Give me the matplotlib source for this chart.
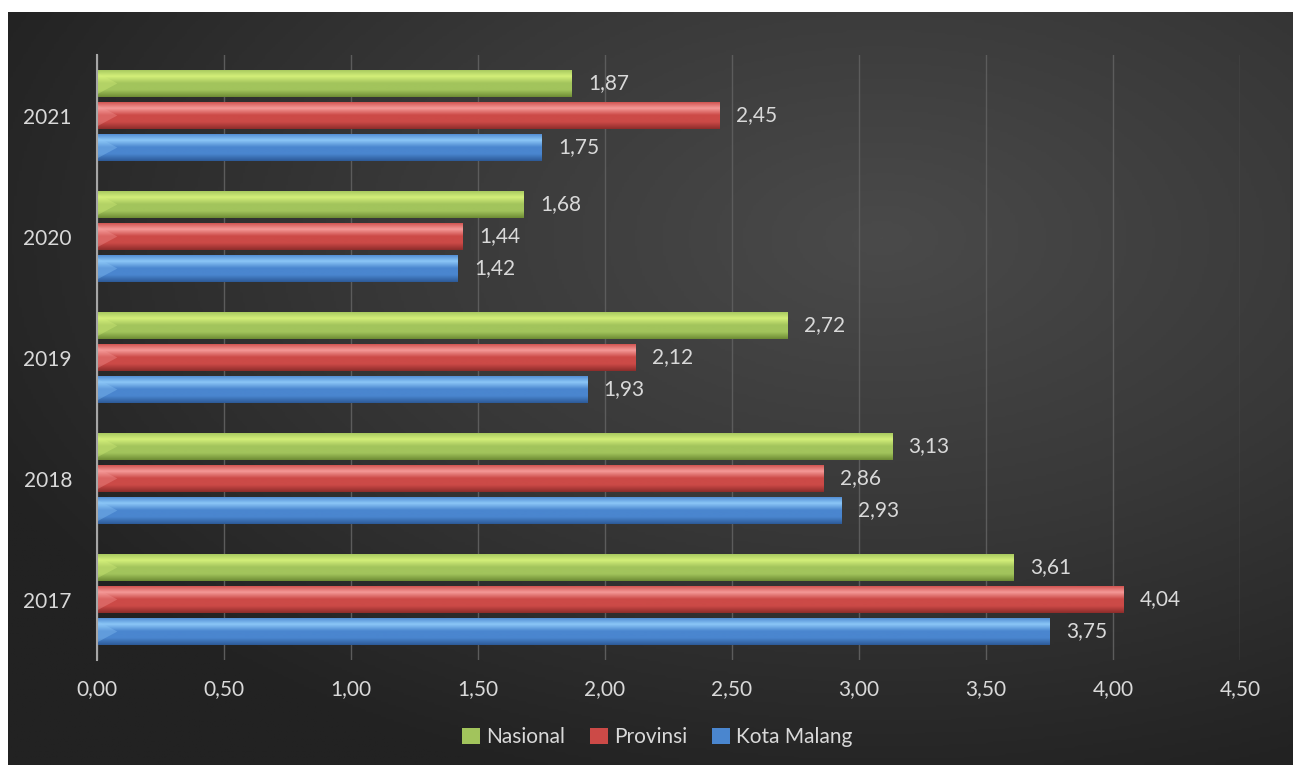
import numpy as np
import matplotlib.pyplot as plt
from matplotlib.colors import LinearSegmentedColormap
from matplotlib.ticker import FuncFormatter

plt.rcParams['font.family'] = ['Lato', 'DejaVu Sans']

years = ['2017', '2018', '2019', '2020', '2021']
nasional = [3.61, 3.13, 2.72, 1.68, 1.87]
provinsi = [4.04, 2.86, 2.12, 1.44, 2.45]
kota_malang = [3.75, 2.93, 1.93, 1.42, 1.75]

series = [
    ('Nasional', nasional, ['#d4ef7a', '#a2c45c', '#6e8c35']),
    ('Provinsi', provinsi, ['#f59a98', '#cc4a47', '#8e2d2b']),
    ('Kota Malang', kota_malang, ['#8cc7f7', '#4a86cf', '#2d5a98']),
]
offsets = [0.265, 0.0, -0.265]
bar_h = 0.225
txt_col = '#d9d9d9'


def comma(v, pos=None):
    return f'{v:.2f}'.replace('.', ',')


fig = plt.figure(figsize=(12.93, 7.65), dpi=100)
fig.patch.set_facecolor('white')

# dark radial background panel
bg = fig.add_axes([8 / 1293, 0, 1 - 8 / 1293, 1 - 12 / 765])
yy, xx = np.mgrid[0:1:300j, 0:1:500j]
r = np.sqrt(((xx - 0.68) / 0.9) ** 2 + ((yy - 0.3) / 0.9) ** 2)
bg_cmap = LinearSegmentedColormap.from_list('bg', ['#4a4a4a', '#383838', '#222222'])
bg.imshow(r, cmap=bg_cmap, vmin=0, vmax=0.85, aspect='auto', extent=[0, 1, 1, 0])
bg.set_axis_off()

ax = fig.add_axes([97 / 1293, 1 - 660 / 765, (1240 - 97) / 1293, (660 - 55) / 765])
ax.set_facecolor('none')

y = np.arange(len(years))
for (name, vals, cols), off in zip(series, offsets):
    bars = ax.barh(y + off, vals, height=bar_h, color=cols[1], label=name,
                   edgecolor='none', zorder=3)
    cmap = LinearSegmentedColormap.from_list(name, [cols[2], cols[1], cols[1], cols[0], cols[1]])
    grad = np.linspace(0, 1, 64).reshape(-1, 1)
    for b, v in zip(bars, vals):
        x0, y0, w, h = b.get_x(), b.get_y(), b.get_width(), b.get_height()
        im = ax.imshow(grad, cmap=cmap, aspect='auto', origin='lower',
                       extent=[x0, x0 + w, y0, y0 + h], zorder=4)
        im.set_clip_path(b)
        # bevel at left end
        ax.fill([x0, x0 + 0.08, x0], [y0 + h * 0.1, y0 + h / 2, y0 + h * 0.9],
                color=cols[0], alpha=0.35, lw=0, zorder=5)
        ax.text(v + 0.065, y0 + h / 2, comma(v), va='center', ha='left',
                color=txt_col, fontsize=15, zorder=6)

ax.set_xlim(0, 4.5)
ax.set_ylim(-0.5, 4.5)
ax.set_xticks(np.arange(0, 4.51, 0.5))
ax.xaxis.set_major_formatter(FuncFormatter(comma))
ax.set_yticks(y)
ax.set_yticklabels(years)
ax.tick_params(colors=txt_col, labelsize=15, length=0)
ax.tick_params(axis='x', pad=14)
ax.tick_params(axis='y', pad=18)
ax.grid(axis='x', color='#5c5c5c', lw=1, zorder=0)
for s in ['top', 'right', 'bottom']:
    ax.spines[s].set_visible(False)
ax.spines['left'].set_color('#a6a6a6')
ax.spines['left'].set_linewidth(1.5)
ax.spines['left'].set_zorder(6)

leg = ax.legend(loc='upper center', bbox_to_anchor=(0.49, -0.08), ncol=3,
                frameon=False, fontsize=15, handlelength=0.85, handleheight=0.85,
                handletextpad=0.3, columnspacing=1.2, labelcolor=txt_col)

plt.savefig('out.png', dpi=100, facecolor=fig.get_facecolor())
